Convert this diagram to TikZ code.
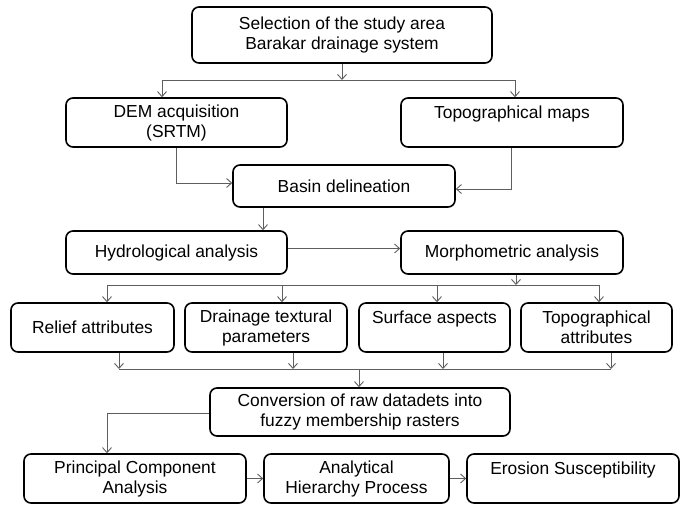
\documentclass[tikz,border=0pt]{standalone}
\usepackage{fontspec}
\setmainfont{Liberation Sans}
\usepackage{tikz}
\usetikzlibrary{arrows.meta}
\usepackage{xcolor}
\definecolor{linegray}{HTML}{5E5E5E}
\tikzset{
  box/.style={rectangle, rounded corners=7pt, draw=black, line width=1.6pt,
              fill=white, inner sep=0pt, align=center,
              font=\fontsize{17.4}{20}\selectfont},
  arr/.style={-{Straight Barb[length=5pt, width=9pt]}, line width=0.9pt, color=linegray},
  link/.style={line width=0.9pt, color=linegray},
}
\begin{document}
\begin{tikzpicture}[x=1pt, y=-1pt]
    \useasboundingbox (0,0) rectangle (680,504);
    % boxes
    \node[box, minimum width=300pt, minimum height=56pt] (sel) at (342,35)
          {Selection of the study area\\Barakar drainage system};
    \node[box, minimum width=221pt, minimum height=49pt] (dem) at (176.5,122.5)
          {DEM acquisition\\(SRTM)};
    \node[box, minimum width=222pt, minimum height=49pt] (topo) at (512,122.5)
          {Topographical maps\\\mbox{}};
    \node[box, minimum width=222pt, minimum height=42pt] (basin) at (344,186)
          {Basin delineation};
    \node[box, minimum width=221pt, minimum height=43pt] (hydro) at (176.5,252.5)
          {Hydrological analysis};
    \node[box, minimum width=222pt, minimum height=43pt] (morph) at (512,252.5)
          {Morphometric analysis};
    \node[box, minimum width=163pt, minimum height=49pt] (relief) at (92.5,327.5)
          {Relief attributes};
    \node[box, minimum width=162pt, minimum height=49pt] (drain) at (266,327.5)
          {Drainage textural\\parameters};
    \node[box, minimum width=151pt, minimum height=49pt] (surf) at (434.5,327.5)
          {Surface aspects\\\mbox{}};
    \node[box, minimum width=151pt, minimum height=49pt] (topatt) at (596.5,327.5)
          {Topographical\\attributes};
    \node[box, minimum width=300pt, minimum height=48pt] (conv) at (360,412)
          {Conversion of raw datadets into\\fuzzy membership rasters};
    \node[box, minimum width=222pt, minimum height=49pt] (pca) at (135,478.5)
          {Principal Component\\Analysis};
    \node[box, minimum width=185pt, minimum height=49pt] (ahp) at (356.5,478.5)
          {Analytical\\Hierarchy Process};
    \node[box, minimum width=212pt, minimum height=49pt] (eros) at (573,478.5)
          {Erosion Susceptibility\\\mbox{}};
    % junctions
    \coordinate (j1) at (342,80);
    \coordinate (j2) at (516,285);
    \coordinate (j3) at (359,369);
    % top split
    \draw[arr] (sel) -- (j1);
    \draw[arr] (j1) -| ([xshift=-14.5pt]dem.north);
    \draw[arr] (j1) -| ([xshift=3pt]topo.north);
    \draw[arr] (dem.south) |- ([yshift=3pt]basin.west);
    \draw[arr] ([xshift=-1pt]topo.south) |- ([yshift=-3pt]basin.east);
    \coordinate (b1) at ([xshift=-81pt]basin.south);
    \draw[arr] (b1) -- (b1 |- hydro.north);
    \draw[arr] ([yshift=4pt]hydro.east) -- ([yshift=4pt]morph.west);
    % morphometric split
    \draw[arr] ([xshift=4pt]morph.south) -- (j2);
    \foreach \n/\dx/\ex in {relief/14.5/26.5, drain/16/27, surf/2.5/8.5, topatt/2.5/14.5}{
      \coordinate (\n-in) at ([xshift=\dx pt]\n.north);
      \coordinate (\n-out) at ([xshift=\ex pt]\n.south);
      \draw[arr] (\n-in |- j2) -- (\n-in);
      \draw[arr] (\n-out) -- (\n-out |- j3);
    }
    \draw[link] (relief-in |- j2) -- (topatt-in |- j2);
    \draw[link] (relief-out |- j3) -- (topatt-out |- j3);
    \draw[arr] (j3) -- (j3 |- conv.north);
    % bottom row
    \draw[arr] ([yshift=-1pt]conv.west) -| ([xshift=-28pt]pca.north);
    \draw[arr] (pca) -- (ahp);
    \draw[arr] (ahp) -- (eros);
\end{tikzpicture}
\end{document}
